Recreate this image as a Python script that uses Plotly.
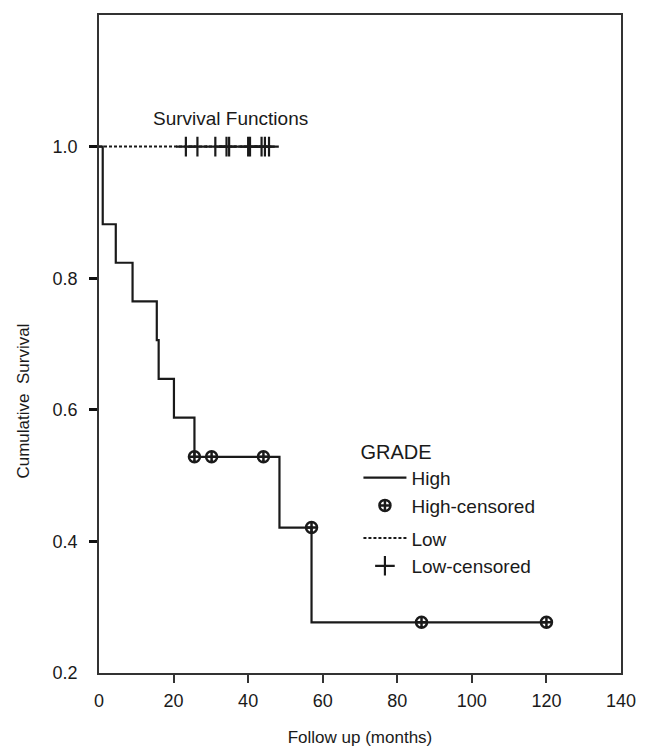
import plotly.graph_objects as go

# ---- data ----
high_times = [0, 1.0, 4.5, 9.0, 15.5, 16.0, 20.1, 25.6, 48.4, 57.0, 120.0]
high_surv = [1.0, 0.882, 0.8235, 0.7647, 0.7059, 0.6471, 0.5882, 0.5285, 0.421, 0.277, 0.277]
high_cens_t = [25.6, 30.2, 44.1, 57.0, 86.5, 120.0]
high_cens_s = [0.5285, 0.5285, 0.5285, 0.421, 0.277, 0.277]

low_times = [0, 45.6]
low_surv = [1.0, 1.0]
low_cens_t = [23.3, 26.4, 31.2, 34.2, 34.9, 40.0, 40.5, 43.6, 44.5, 45.6]
low_cens_s = [1.0] * len(low_cens_t)

x_ticks = [0, 20, 40, 60, 80, 100, 120, 140]
y_ticks = [0.2, 0.4, 0.6, 0.8, 1.0, 1.2]
x_inner = [20, 40, 60, 80, 100, 120]
y_inner = [0.4, 0.6, 0.8, 1.0]

FONT = "Liberation Sans, Arial, sans-serif"
INK = "#1a1a1a"

fig = go.Figure()
fig.add_trace(go.Scatter(x=high_times, y=high_surv, mode="lines", line_shape="hv",
                         line=dict(color=INK, width=2.2), name="High", legendgroup="high"))
fig.add_trace(go.Scatter(x=high_cens_t, y=high_cens_s, mode="markers",
                         marker=dict(symbol="circle-cross-open", size=11, color=INK,
                                     line=dict(width=2.5, color=INK)),
                         name="High-censored", legendgroup="high"))
fig.add_trace(go.Scatter(x=low_times, y=low_surv, mode="lines",
                         line=dict(color=INK, width=2, dash="3px,2px"), name="Low",
                         legendgroup="low"))
fig.add_trace(go.Scatter(x=low_cens_t, y=low_cens_s, mode="markers",
                         marker=dict(symbol="cross-thin-open", size=14, color=INK,
                                     line=dict(width=2.2, color=INK)),
                         name="Low-censored", legendgroup="low"))

axis_common = dict(showline=True, mirror=True, linecolor="#333", linewidth=1.5,
                   showgrid=False, zeroline=False, ticks="outside",
                   tickcolor="rgba(0,0,0,0)", automargin=False,
                   tickfont=dict(family=FONT, size=18, color=INK))

fig.update_xaxes(range=[0, 140], tickvals=x_ticks, ticklen=11,
                 minor=dict(tickvals=x_inner, ticks="outside", ticklen=8, tickwidth=1.5,
                            tickcolor="#333"),
                 title=dict(text="Follow up (months)", font=dict(family=FONT, size=17, color=INK),
                            standoff=21),
                 **axis_common)
fig.update_yaxes(range=[0.2, 1.2], tickvals=y_ticks, ticktext=[f"{v:.1f}" for v in y_ticks],
                 ticklen=16,
                 minor=dict(tickvals=y_inner, ticks="outside", ticklen=8, tickwidth=2.5,
                            tickcolor="#111"),
                 **axis_common)

# y-axis title (placed lower than centre, as in the original)
fig.add_annotation(text="Cumulative\u00a0 Survival", textangle=-90,
                   x=-0.145, y=0.413, xref="paper", yref="paper",
                   xanchor="center", yanchor="middle", showarrow=False,
                   font=dict(family=FONT, size=17, color=INK))

fig.add_annotation(text="Survival Functions", x=13.9, y=1.042, xref="x", yref="y",
                   xanchor="left", yanchor="middle", showarrow=False,
                   font=dict(family=FONT, size=19, color=INK))

fig.update_layout(
    template="none",
    width=641, height=743,
    margin=dict(l=91, r=28, t=7, b=78),
    paper_bgcolor="white", plot_bgcolor="white",
    font=dict(family=FONT, color=INK),
    showlegend=True,
    legend=dict(x=0.497, y=0.365, xanchor="left", yanchor="top",
                title=dict(text="GRADE", font=dict(family=FONT, size=20, color=INK)),
                font=dict(family=FONT, size=19, color=INK),
                bgcolor="rgba(0,0,0,0)", itemwidth=43, tracegroupgap=5),
)

fig.write_html("out.html")
